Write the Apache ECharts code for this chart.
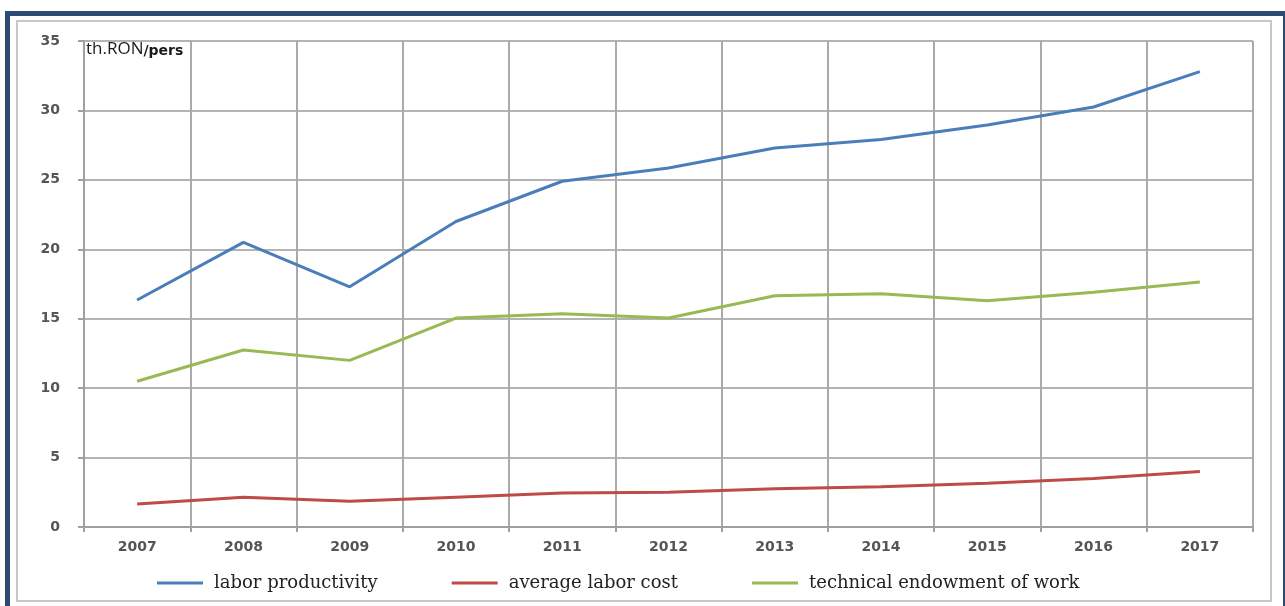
<!DOCTYPE html>
<html>
<head>
<meta charset="utf-8">
<script src="https://cdn.jsdelivr.net/npm/echarts@6/dist/echarts.min.js"></script>
<style>
  html, body { margin: 0; padding: 0; background: #fff; }
  #main { width: 1285px; height: 606px; }
</style>
</head>
<body>
<div id="main"></div>
<script>
// data
var years = ['2007', '2008', '2009', '2010', '2011', '2012', '2013', '2014', '2015', '2016', '2017'];
var laborProductivity = [16.35, 20.5, 17.3, 22.0, 24.9, 25.85, 27.3, 27.9, 28.95, 30.25, 32.8];
var averageLaborCost = [1.65, 2.15, 1.85, 2.15, 2.45, 2.5, 2.75, 2.9, 3.15, 3.5, 4.0];
var technicalEndowment = [10.5, 12.75, 12.0, 15.05, 15.35, 15.05, 16.65, 16.8, 16.3, 16.9, 17.65];
var yTicks = [0, 5, 10, 15, 20, 25, 30, 35];

var myChart = echarts.init(document.getElementById('main'));

var option = {
  animation: false,
  backgroundColor: '#fff',
  graphic: [
    // dark blue outer frame
    { type: 'rect', shape: { x: 7.5, y: 13.5, width: 1278, height: 600 },
      style: { fill: 'none', stroke: '#2d4a72', lineWidth: 5 } },
    // light gray inner frame
    { type: 'rect', shape: { x: 17, y: 21, width: 1254, height: 580 },
      style: { fill: 'none', stroke: '#c8c8c8', lineWidth: 2 } }
  ],
  title: {
    text: '{a|th.RON}{b|/pers}',
    left: 81,
    top: 36,
    textStyle: {
      rich: {
        a: { fontFamily: 'Open Sans', fontSize: 17, fontWeight: 'normal', color: '#1a1a1a' },
        b: { fontFamily: 'DejaVu Sans', fontSize: 14, fontWeight: 'bold', color: '#1a1a1a', padding: [3, 0, 0, 0] }
      }
    }
  },
  legend: {
    bottom: 9,
    left: 152,
    itemGap: 74,
    itemWidth: 46,
    itemHeight: 3,
    icon: 'rect',
    textStyle: { fontFamily: 'DejaVu Serif', fontSize: 18, color: '#222', padding: [0, 0, 0, 6] },
    data: ['labor productivity', 'average labor cost', 'technical endowment of work']
  },
  grid: { left: 84, right: 32, top: 41, bottom: 79 },
  xAxis: {
    type: 'category',
    data: years,
    boundaryGap: true,
    axisLine: { lineStyle: { color: '#a0a0a0', width: 2 } },
    axisTick: { show: true, length: 5, lineStyle: { color: '#a0a0a0', width: 2 } },
    axisLabel: { fontFamily: 'DejaVu Sans', fontWeight: 'bold', fontSize: 14, color: '#555', margin: 13 },
    splitLine: { show: true, lineStyle: { color: '#aaa', width: 2 } }
  },
  yAxis: {
    type: 'value',
    min: yTicks[0],
    max: yTicks[yTicks.length - 1],
    interval: 5,
    axisLine: { show: true, lineStyle: { color: '#a0a0a0', width: 2 } },
    axisTick: { show: true, length: 6, lineStyle: { color: '#a0a0a0', width: 2 } },
    axisLabel: { fontFamily: 'DejaVu Sans', fontWeight: 'bold', fontSize: 14, color: '#555', margin: 24 },
    splitLine: { show: true, lineStyle: { color: '#b4b4b4', width: 2 } }
  },
  series: [
    { name: 'labor productivity', type: 'line', data: laborProductivity, showSymbol: false,
      lineStyle: { color: '#4a7ebb', width: 3 }, itemStyle: { color: '#4a7ebb' } },
    { name: 'average labor cost', type: 'line', data: averageLaborCost, showSymbol: false,
      lineStyle: { color: '#be4b48', width: 3 }, itemStyle: { color: '#be4b48' } },
    { name: 'technical endowment of work', type: 'line', data: technicalEndowment, showSymbol: false,
      lineStyle: { color: '#98b954', width: 3 }, itemStyle: { color: '#98b954' } }
  ]
};

myChart.setOption(option);
</script>
</body>
</html>
